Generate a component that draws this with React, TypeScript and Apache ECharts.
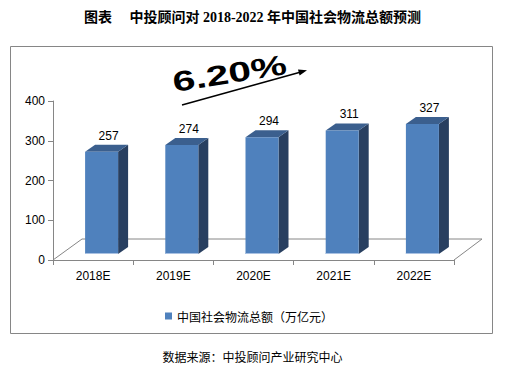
import React, { useEffect, useRef } from "react";
import * as echarts from "echarts";

const categories = ["2018E", "2019E", "2020E", "2021E", "2022E"];
const values = [257, 274, 294, 311, 327];
const seriesName = "中国社会物流总额（万亿元）";
const titleText = "图表　 中投顾问对 2018-2022 年中国社会物流总额预测";
const sourceText = "数据来源：中投顾问产业研究中心";
const growthText = "6.20%";

const FRONT = "#4F81BD";
const SIDE = "#283F60";
const TOP = "#3B5F8E";
const EDGE = "#A9C1E2";
const GREY = "#868686";
const SANS = '"Liberation Sans", Arial, "Noto Sans CJK SC", sans-serif';
const CJK = '"Noto Sans CJK SC", "Liberation Sans", sans-serif';

export default function App() {
  const ref = useRef<HTMLDivElement>(null);
  useEffect(() => {
    if (!ref.current) return;
    const chart = echarts.init(ref.current, null, { renderer: "svg" });
    const w = 33, dx = 10, dy = 7, off = 8.5, lift = 6;
    const option: any = {
      animation: false,
      backgroundColor: "#ffffff",
      title: {
        text: titleText,
        left: "center",
        top: 5,
        textStyle: {
          fontFamily: '"Liberation Serif", "Noto Sans CJK SC", serif',
          fontWeight: "bold",
          fontSize: 14,
          color: "#000",
        },
      },
      legend: {
        data: [seriesName],
        left: 160,
        top: 305,
        icon: "rect",
        itemWidth: 7,
        itemHeight: 7,
        textStyle: { fontFamily: CJK, fontSize: 12, color: "#000" },
      },
      grid: { left: 53, right: 51, top: 101, bottom: 107, containLabel: false },
      xAxis: {
        type: "category",
        data: categories,
        boundaryGap: true,
        axisLine: { show: true, lineStyle: { color: GREY, width: 1 } },
        axisTick: { show: true, length: 5, lineStyle: { color: GREY }, alignWithLabel: false },
        axisLabel: { color: "#000", fontFamily: SANS, fontSize: 12, margin: 10 },
        splitLine: { show: false },
      },
      yAxis: {
        type: "value",
        min: 0,
        max: 400,
        interval: 100,
        axisLine: { show: true, lineStyle: { color: GREY, width: 1 } },
        axisTick: { show: true, length: 5, lineStyle: { color: GREY } },
        axisLabel: { color: "#000", fontFamily: SANS, fontSize: 12, margin: 8 },
        splitLine: { show: false },
      },
      graphic: [
        {
          type: "rect",
          shape: { x: 10.5, y: 46.5, width: 482, height: 287 },
          style: { fill: "none", stroke: GREY, lineWidth: 1 },
          z: -1,
        },
        {
          type: "polyline",
          shape: { points: [[53, 260], [82, 239], [482, 239], [454, 260]] },
          style: { fill: "none", stroke: GREY, lineWidth: 1 },
          z: 0,
        },
        {
          type: "text",
          x: 175,
          y: 96,
          rotation: 0.16,
          scaleX: 1.45,
          style: {
            text: growthText,
            font: 'bold 28px "Liberation Sans", Arial, sans-serif',
            fill: "#000",
            textAlign: "left",
            textVerticalAlign: "bottom",
          },
          z: 10,
        },
        {
          type: "line",
          shape: { x1: 182, y1: 105, x2: 300, y2: 72.2 },
          style: { stroke: "#000", lineWidth: 1.5 },
          z: 10,
        },
        {
          type: "polygon",
          shape: { points: [[307, 70.3], [299.6, 75.4], [298.0, 69.5]] },
          style: { fill: "#000" },
          z: 10,
        },
        {
          type: "text",
          left: "center",
          top: 350,
          style: {
            text: sourceText,
            font: '12px "Noto Sans CJK SC", sans-serif',
            fill: "#000",
          },
        },
      ],
      series: [
        {
          name: seriesName,
          type: "custom",
          itemStyle: { color: FRONT },
          data: values.map((v, i) => [i, v]),
          encode: { x: 0, y: 1 },
          renderItem: (params: any, api: any) => {
            const idx = api.value(0);
            const v = api.value(1);
            const base = api.coord([idx, 0]);
            const top = api.coord([idx, v]);
            const x0 = base[0] - w / 2 + off;
            const x1 = x0 + w;
            const yb = base[1] - lift;
            const yt = top[1] - lift;
            return {
              type: "group",
              children: [
                {
                  type: "polygon",
                  shape: { points: [[x1, yb], [x1 + dx, yb - dy], [x1 + dx, yt - dy], [x1, yt]] },
                  style: { fill: SIDE },
                },
                {
                  type: "polygon",
                  shape: { points: [[x0, yt], [x0 + dx, yt - dy], [x1 + dx, yt - dy], [x1, yt]] },
                  style: { fill: TOP },
                },
                {
                  type: "rect",
                  shape: { x: x0, y: yt, width: w, height: yb - yt },
                  style: { fill: FRONT },
                },
                {
                  type: "line",
                  shape: { x1: x0, y1: yb - 0.5, x2: x1, y2: yb - 0.5 },
                  style: { stroke: EDGE, lineWidth: 1 },
                },
                {
                  type: "text",
                  x: x0 + w / 2 + dx / 2 + 2,
                  y: yt - dy - 3,
                  style: {
                    text: String(v),
                    font: '12px "Liberation Sans", Arial, sans-serif',
                    fill: "#000",
                    textAlign: "center",
                    textVerticalAlign: "bottom",
                  },
                },
              ],
            };
          },
        },
      ],
    };
    chart.setOption(option);
    return () => chart.dispose();
  }, []);
  return (
    <div
      ref={ref}
      style={{ position: "fixed", left: 0, top: 0, width: 505, height: 367 }}
    />
  );
}
